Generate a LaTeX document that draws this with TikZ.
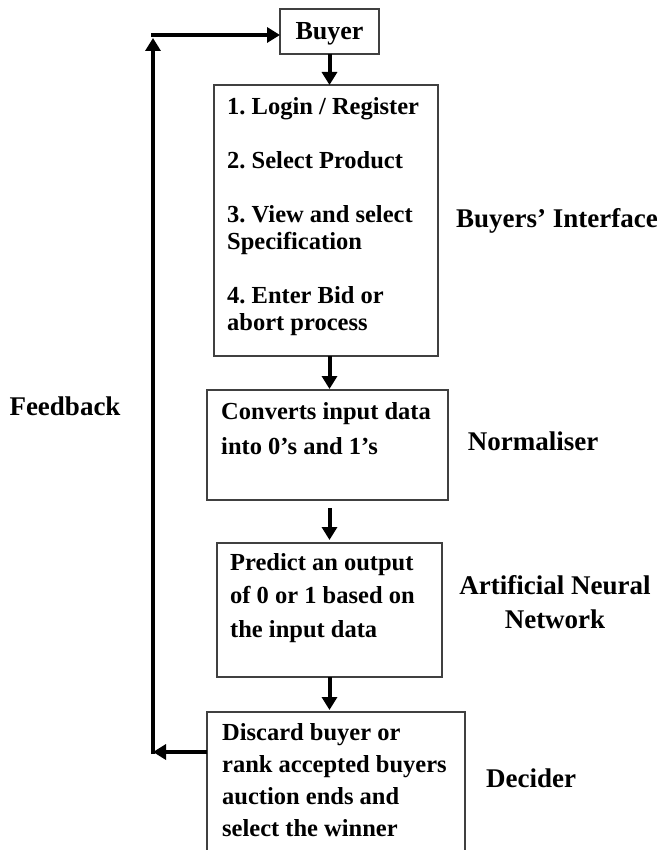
\documentclass[tikz,border=0pt]{standalone}
\usepackage{fontspec}
\setmainfont{Liberation Serif}
\usetikzlibrary{arrows.meta}
\frenchspacing
\begin{document}
\begin{tikzpicture}[x=1pt,y=-1pt,
  box/.style={draw=black!75,line width=1.1pt,anchor=north west,inner sep=0pt,outer sep=0pt,fill=white},
  btext/.style={anchor=north west,align=left,inner sep=0pt,font=\bfseries\fontsize{24.5}{#1}\selectfont},
  lbl/.style={anchor=base,align=center,inner sep=0pt,font=\bfseries\fontsize{27}{34}\selectfont},
  arr/.style={line width=4pt,-{Triangle[length=13pt,width=15pt]}}]
\useasboundingbox (0,0) rectangle (660,850);
% boxes
\node[box,minimum width=99pt,minimum height=45pt,text depth=1pt,font=\bfseries\fontsize{26}{30}\selectfont] (buyer) at (280,9) {Buyer};
\node[box,minimum width=224pt,minimum height=271pt] (iface) at (214,85) {};
\node[box,minimum width=241pt,minimum height=110pt] (norm) at (207,390) {};
\node[box,minimum width=225pt,minimum height=134pt] (ann) at (217,543) {};
\node[box,minimum width=258pt,minimum height=160pt] (dec) at (207,712) {};
% box texts
\node[btext=27] (itext) at (227,97) {1. Login / Register\\[27pt]2. Select Product\\[27pt]3. View and select\\Specification\\[27pt]4. Enter Bid or\\abort process};
\node[btext=35] (ntext) at (221,402) {Converts input data\\into 0’s and 1’s};
\node[btext=33.5] (atext) at (230,553) {Predict an output\\of 0 or 1 based on\\the input data};
\node[btext=32] (dtext) at (222,723) {Discard buyer or\\rank accepted buyers\\auction ends and\\select the winner};
% labels
\node[lbl] (lif) at (557,227) {Buyers’ Interface};
\node[lbl] (lnorm) at (533,450) {Normaliser};
\node[lbl,anchor=north] (lann) at (555,575) {Artificial Neural\\Network};
\node[lbl] (ldec) at (531,787) {Decider};
\node[lbl] (lfb) at (65,415) {Feedback};
% flow arrows
\draw[arr] (buyer.south) -- (iface.north -| buyer.south);
\draw[arr,shorten >=1pt] (iface.south -| buyer.south) -- (norm.north -| buyer.south);
\draw[arr,shorten <=8pt,shorten >=3pt] (norm.south -| buyer.south) -- (ann.north -| buyer.south);
\draw[arr,shorten >=2pt] (ann.south -| buyer.south) -- (dec.north -| buyer.south);
% feedback loop
\coordinate (fbb) at (153,752);
\coordinate (fbl) at (153,754);
\coordinate (fbt) at (153,38);
\coordinate (fbc) at (151,35);
\draw[arr] (dec.west |- fbb) -- (fbb);
\draw[arr] (fbl) -- (fbt);
\draw[arr] (fbc) -- (buyer.west |- fbc);
\end{tikzpicture}
\end{document}
